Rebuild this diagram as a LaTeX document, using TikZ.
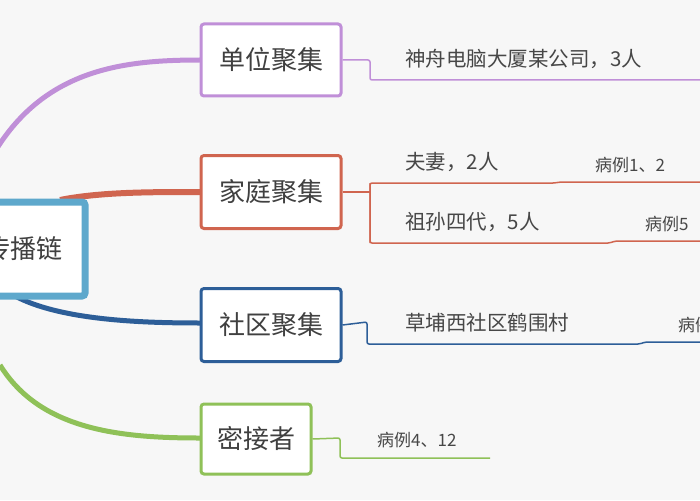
\documentclass[tikz,border=0pt]{standalone}
\usepackage{fontspec}
\setmainfont{Noto Sans CJK SC}
\begin{document}
\begin{tikzpicture}[x=1pt,y=-1pt,
  box/.style={draw,fill=white,rounded corners=3pt,line width=3pt,font=\fontsize{26}{28}\selectfont,text=black!75,inner sep=0pt},
  lbl/.style={anchor=west,font=\fontsize{20.5}{23}\selectfont,text=black!72,inner sep=0pt},
  sml/.style={anchor=west,font=\fontsize{17}{19}\selectfont,text=black!72,inner sep=0pt},
  br/.style={line width=1.5pt,rounded corners=2pt}]
\definecolor{pur}{HTML}{C08FD8}
\definecolor{red}{HTML}{D0654F}
\definecolor{blu}{HTML}{2D5E98}
\definecolor{grn}{HTML}{8FC158}
\definecolor{roo}{HTML}{5EA8CC}
\fill[black!3] (0,0) rectangle (700,500);
\useasboundingbox (0,0) rectangle (700,500);
\clip (0,0) rectangle (700,500);
% connectors
\coordinate (pS) at (-10,160);
\coordinate (gS) at (0,365);
\draw[pur,line width=5pt] (pS) .. controls (40,70) and (120,60) .. (200,60);
\draw[grn,line width=5pt] (gS) .. controls (40,430) and (120,438) .. (200,438);
\draw[red,line width=6pt] (60,200) .. controls (100,192) and (150,192) .. (200,192);
\draw[blu,line width=5pt] (15,296) .. controls (60,320) and (140,323) .. (200,323);
% root
\node[box,draw=roo,line width=7pt,minimum width=124pt,minimum height=94pt] (root) at (23,249) {传播链};
% boxes
\node[box,draw=pur,minimum width=140pt,minimum height=72pt] (a) at (271,60) {单位聚集};
\node[box,draw=red,minimum width=140pt,minimum height=73pt] (b) at (271,192) {家庭聚集};
\node[box,draw=blu,minimum width=140pt,minimum height=73pt] (c) at (271,325) {社区聚集};
\node[box,draw=grn,minimum width=110pt,minimum height=70pt] (d) at (256,439) {密接者};
% branches
\draw[pur,br] (a.east) -- (370,60) -- (370,80) -- (700,80);
\node[lbl] (a1) at (405,59) {神舟电脑大厦某公司，3人};
\draw[red,br] (b.east) -- (370,192);
\draw[red,br] (370,243) -- (370,183) -- (555,183) -- (560,182) -- (700,182);
\draw[red,br] (370,183) -- (370,243) -- (610,243) -- (615,241) -- (700,241);
\node[lbl] (b1) at (405,162) {夫妻，2人};
\node[sml] (b2) at (595,165) {病例1、2};
\node[lbl] (b3) at (405,222) {祖孙四代，5人};
\node[sml] (b4) at (645,224) {病例5};
\draw[blu,br] (c.east) -- (367,322) -- (367,344) -- (640,344) -- (645,342) -- (700,342);
\node[lbl] (c1) at (405,323) {草埔西社区鹤围村};
\node[sml] (c2) at (678,325) {病例};
\draw[grn,br] (d.east) -- (340,438) -- (340,458) -- (490,458);
\node[sml] (d1) at (377,440) {病例4、12};
\end{tikzpicture}
\end{document}
